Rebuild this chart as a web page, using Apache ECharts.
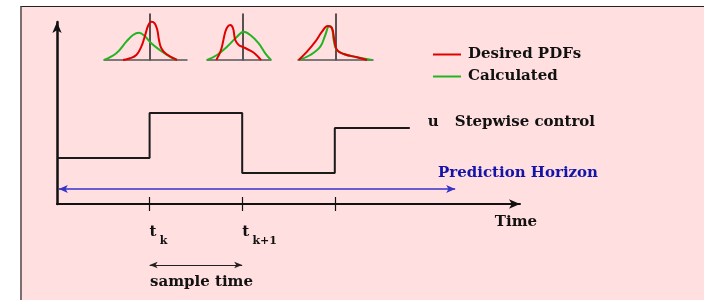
<!DOCTYPE html>
<html>
<head>
<meta charset="utf-8">
<style>
  html, body { margin: 0; padding: 0; background: #fff; }
  #box { position: absolute; left: 20px; top: 6px; right: 0; bottom: 0;
         background: #ffdfe0; border-top: 1px solid #222; border-left: 2px solid #7a7070; }
  #chart { position: absolute; left: 0; top: 0; width: 704px; height: 300px; }
</style>
<script src="https://cdn.jsdelivr.net/npm/echarts@6/dist/echarts.min.js"></script>
</head>
<body>
<div id="box"></div>
<div id="chart"></div>
<script>
// stepwise control (x in sample periods, y in arbitrary units)
const stepX = [0, 1, 2, 3, 3.81];
const stepY = [2.53, 5.0, 1.70, 4.18, 4.18];
const tickValues = [1, 2, 3];
const tickLabels = [{ base: "t", sub: "k" }, { base: "t", sub: "k+1" }];
const horizonSpan = [0.02, 4.3];
const horizonLevel = 0.82;
const sampleSpan = [1, 2];

// pdf curves, [offset from centre line, height above baseline]
const desired1 = [[-27, 0], [-20, 1.7], [-13.7, 5], [-8.7, 13.3], [-5.3, 23.3], [-2, 34], [1.3, 38.3], [4.7, 36.7], [7.3, 30], [9, 20], [11.3, 11.7], [16.3, 6], [27, 0]];
const calc1 = [[-46, 0], [-33.7, 6.7], [-23.7, 18.3], [-17, 25], [-11, 27.3], [-5.3, 24], [1.3, 16.7], [9.7, 10], [19.7, 3.3], [27, 0]];
const desired2 = [[-26.7, 0], [-22, 10], [-17.7, 28.3], [-15.3, 33.3], [-12.7, 35], [-10, 31.7], [-7.7, 20], [-4.3, 15], [0.7, 12.7], [7.3, 9.3], [12.3, 6], [18, 0]];
const calc2 = [[-36, 0], [-26, 5], [-16, 13.3], [-6, 23.3], [0.7, 28.3], [7.3, 25], [15.7, 16.7], [22.3, 6.7], [28, 0]];
const desired3 = [[-37.3, 0], [-29, 8.3], [-20.7, 18.3], [-14, 28.3], [-8.3, 34], [-4, 31.7], [-1.7, 20], [1, 10], [7.7, 6], [21, 2.7], [31, 0]];
const calc3 = [[-37.3, 0], [-25.7, 5], [-15.7, 13.3], [-10.7, 25], [-6.7, 34], [-4, 31.7], [-2.3, 20], [0.3, 10.7], [7.7, 6], [21, 2.7], [36, 0]];
const pdfRanges = [[-46, 37], [-36, 28], [-38, 37]];

const serif = "DejaVu Serif";
const RED = "#e00000", GREEN = "#22b422";

let chart = echarts.init(document.getElementById("chart"));

// three little pdf panels sit above the ticks
let pdfGrids = [
  { left: 104, top: 14, width: 83, height: 46 },
  { left: 207, top: 14, width: 64, height: 46 },
  { left: 298, top: 14, width: 75, height: 46 }
];
// helper grids sharing the time scale: tick marks and the sample-time arrow
let helperGrids = [
  { left: 57, top: 197, width: 463, height: 14 },
  { left: 57, top: 260, width: 463, height: 10 }
];

function hiddenAxis(grid, min, max) {
  return { type: "value", gridIndex: grid, min: min, max: max, show: false };
}

let xAxes = [{
  type: "value", gridIndex: 0, min: 0, max: 5,
  name: "Time", nameLocation: "end", nameGap: -4,
  nameTextStyle: { fontFamily: serif, fontWeight: "bold", fontSize: 15, color: "#111",
                   align: "center", verticalAlign: "top", padding: [11, 0, 0, 0] },
  axisLine: { lineStyle: { color: "#111", width: 2 }, symbol: ["none", "arrow"], symbolSize: [7, 11] },
  axisTick: { show: false },
  splitLine: { show: false },
  axisLabel: {
    customValues: [1, 2], align: "left", margin: 14,
    formatter: v => {
      let l = tickLabels[v - 1];
      return "{t|" + l.base + "} {s|" + l.sub + "}";
    },
    rich: {
      t: { fontFamily: serif, fontWeight: "bold", fontSize: 15, color: "#111" },
      s: { fontFamily: serif, fontWeight: "bold", fontSize: 11, color: "#111", padding: [18, 0, 0, 0] }
    }
  }
}];
let yAxes = [{
  type: "value", gridIndex: 0, min: 0, max: 10,
  axisLine: { lineStyle: { color: "#111", width: 2.5 }, symbol: ["none", "arrow"], symbolSize: [7, 11] },
  axisTick: { show: false }, axisLabel: { show: false }, splitLine: { show: false }
}];
pdfRanges.forEach((r, i) => {
  xAxes.push({
    type: "value", gridIndex: i + 1, min: r[0], max: r[1],
    axisLine: { lineStyle: { color: "#555", width: 1.5 } },
    axisTick: { show: false }, axisLabel: { show: false }, splitLine: { show: false }
  });
  yAxes.push({
    type: "value", gridIndex: i + 1, min: 0, max: 46,
    axisLine: { onZero: true, lineStyle: { color: "#222", width: 1.5 } },
    axisTick: { show: false }, axisLabel: { show: false }, splitLine: { show: false }
  });
});
xAxes.push(hiddenAxis(4, 0, 5), hiddenAxis(5, 0, 5));
yAxes.push(hiddenAxis(4, 0, 1), hiddenAxis(5, 0, 1));

function pdfSeries(name, data, color, idx) {
  return {
    name: name, type: "line", xAxisIndex: idx, yAxisIndex: idx,
    data: data, smooth: 0.4, symbol: "none",
    lineStyle: { color: color, width: 2 }, itemStyle: { color: color }
  };
}

let option = {
  animation: false,
  grid: [{ left: 57, top: 22, width: 463, height: 182 }].concat(pdfGrids, helperGrids),
  xAxis: xAxes,
  yAxis: yAxes,
  legend: {
    data: ["Desired PDFs", "Calculated"],
    orient: "vertical", left: 428, top: 42, itemGap: 7,
    icon: "rect", itemWidth: 28, itemHeight: 2,
    textStyle: { fontFamily: serif, fontWeight: "bold", fontSize: 15, color: "#111", padding: [2, 0, 0, 2] }
  },
  graphic: [
    { type: "text", left: 438, top: 166,
      style: { text: "Prediction Horizon", fill: "#1414a8", font: "bold 15px 'DejaVu Serif'" } },
    { type: "text", left: 150, top: 275,
      style: { text: "sample time", fill: "#111", font: "bold 15px 'DejaVu Serif'" } }
  ],
  series: [
    {
      name: "u", type: "line", step: "end", clip: false,
      data: stepX.map((x, i) => [x, stepY[i]]),
      symbol: "none", lineStyle: { color: "#1a1a1a", width: 2 },
      endLabel: {
        show: true, distance: 18, offset: [0, -6],
        formatter: "{u|u}{s|Stepwise control}",
        rich: {
          u: { fontFamily: serif, fontWeight: "bold", fontSize: 15, color: "#111", width: 27 },
          s: { fontFamily: serif, fontWeight: "bold", fontSize: 15, color: "#111" }
        }
      }
    },
    {
      name: "horizon", type: "line", data: [],
      markLine: {
        silent: true, symbol: ["arrow", "arrow"], symbolSize: [6, 9], label: { show: false },
        lineStyle: { color: "#3535c8", width: 1.5, type: "solid" },
        data: [[{ coord: [horizonSpan[0], horizonLevel] }, { coord: [horizonSpan[1], horizonLevel] }]]
      }
    },
    {
      name: "ticks", type: "line", data: [], xAxisIndex: 4, yAxisIndex: 4,
      markLine: {
        silent: true, symbol: "none", label: { show: false },
        lineStyle: { color: "#111", width: 1.2, type: "solid" },
        data: tickValues.map(v => [{ coord: [v, 0] }, { coord: [v, 1] }])
      }
    },
    {
      name: "sample", type: "line", data: [], xAxisIndex: 5, yAxisIndex: 5,
      markLine: {
        silent: true, symbol: ["arrow", "arrow"], symbolSize: [5, 8], label: { show: false },
        lineStyle: { color: "#222", width: 1, type: "solid" },
        data: [[{ coord: [sampleSpan[0], 0.5] }, { coord: [sampleSpan[1], 0.5] }]]
      }
    },
    pdfSeries("Calculated", calc1, GREEN, 1),
    pdfSeries("Desired PDFs", desired1, RED, 1),
    pdfSeries("Calculated", calc2, GREEN, 2),
    pdfSeries("Desired PDFs", desired2, RED, 2),
    pdfSeries("Calculated", calc3, GREEN, 3),
    pdfSeries("Desired PDFs", desired3, RED, 3)
  ]
};
chart.setOption(option);
</script>
</body>
</html>
